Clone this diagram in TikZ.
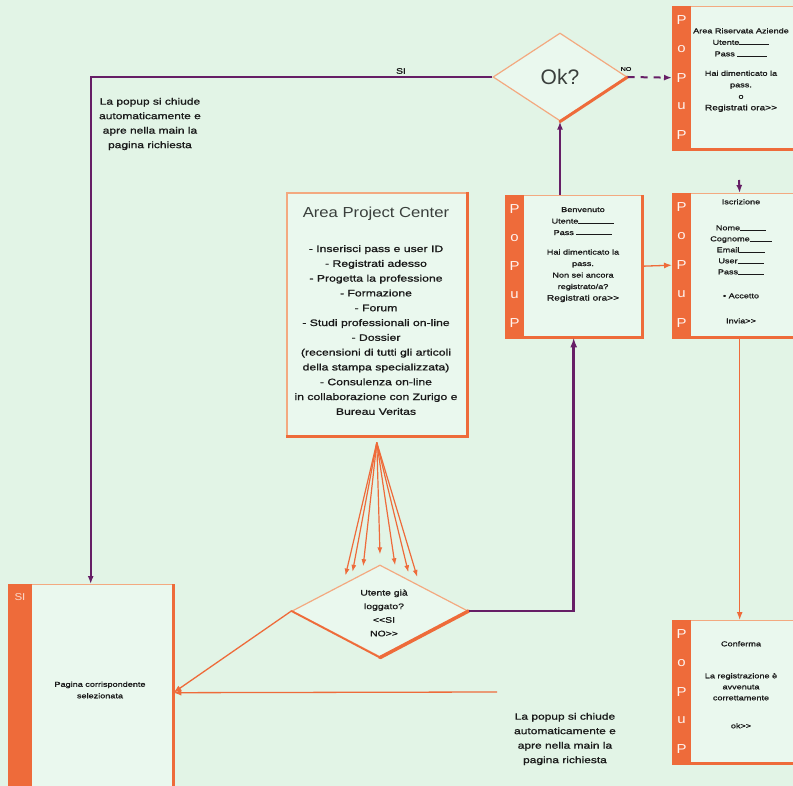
\documentclass[tikz,border=0pt]{standalone}
\usepackage{fontspec}
\setmainfont{Liberation Sans}
\newfontfamily\widesf{Liberation Sans}[FakeStretch=1.3, FakeBold=1.2]
\newfontfamily\titlesf{Liberation Sans}[FakeStretch=1.15]
\usetikzlibrary{shapes.geometric,arrows.meta,calc}

\definecolor{bg}{HTML}{E2F4E6}
\definecolor{boxbg}{HTML}{EAF8EE}
\definecolor{orng}{HTML}{EE6B3A}
\definecolor{orngL}{HTML}{F3A980}
\definecolor{purp}{HTML}{661E66}
\definecolor{ink}{HTML}{1A1A1A}
\definecolor{titlegray}{HTML}{3A3F3C}

\tikzset{
  popframe/.style={draw=orngL, line width=1.4pt, fill=boxbg, inner sep=0pt},
  sideletter/.style={text=white!92!orng, font=\titlesf\fontsize{13}{13}\selectfont, inner sep=0pt},
  poptext/.style={text=ink, align=center, inner sep=0pt, font=\widesf\fontsize{7}{11.5}\selectfont},
  note/.style={text=ink, align=center, inner sep=0pt, font=\widesf\fontsize{9.2}{14.5}\selectfont},
  decision/.style={diamond, draw=orngL, line width=1.2pt, fill=boxbg, inner sep=0pt},
  purpline/.style={draw=purp, line width=2pt},
  purparrow/.style={purpline, -{Latex[length=8pt,width=6pt]}},
  orngarrow/.style={draw=orng, line width=1.3pt, -{Latex[length=8pt,width=6pt]}},
  fanarrow/.style={draw=orng, line width=1.2pt, -{Latex[length=7pt,width=5pt]}},
  shadowedge/.style={draw=orng, line width=3.5pt},
}

% field line after a label
\newcommand\blank[1]{\rule{#1}{0.6pt}}

% popup window: name, left, top, right, bottom
\newcommand\popupbox[5]{%
  \node[popframe, anchor=north west, minimum width=#4-#2, minimum height=#5-#3] (#1) at (#2,#3) {};
  \fill[orng] (#1.north west) rectangle ([xshift=19pt]#1.south west);
  \draw[shadowedge] (#1.north east) -- (#1.south east) -- (#1.south west);
  \foreach \l [count=\i] in {P,o,P,u,P}
    \node[sideletter] (#1-l\i) at ($(#1.north west)!{(\i-0.5)/5}!(#1.south west)+(9.5pt,0)$) {\l};
}

\begin{document}
\begin{tikzpicture}[x=1pt,y=-1pt]
\useasboundingbox (0,0) rectangle (793,786);
\clip (0,0) rectangle (793,786);
\fill[bg] (0,0) rectangle (793,786);

% ---- popup windows ----
\popupbox{login}{672}{6}{806}{148}
\node[poptext, anchor=north] (login-t) at (741,28)
  {Area Riservata Aziende\\Utente\blank{30pt}\\Pass \blank{30pt}\\[8pt]Hai dimenticato la\\pass.\\o\\{\fontsize{7.8}{12}\selectfont Registrati ora>{}>}};

\popupbox{mid}{505}{195}{641}{336}
\node[poptext, anchor=north] (mid-t) at (583,207)
  {Benvenuto\\Utente\blank{36pt}\\Pass \blank{36pt}\\[8pt]Hai dimenticato la\\pass.\\Non sei ancora\\registrato/a?\\{\fontsize{7.8}{13}\selectfont Registrati ora>{}>}};

\popupbox{reg}{672}{193}{806}{336}
\node[poptext, anchor=north, font=\widesf\fontsize{7}{11}\selectfont] (reg-t) at (741,199)
  {Iscrizione\\[15pt]Nome\blank{26pt}\\Cognome\blank{22pt}\\Email\blank{26pt}\\User\blank{26pt}\\Pass\blank{26pt}\\[13pt]\textbullet{} Accetto\\[14pt]Invia>{}>};

\popupbox{conf}{672}{620}{806}{762}
\node[poptext, anchor=north, font=\widesf\fontsize{7}{11}\selectfont] (conf-t) at (741,641)
  {Conferma\\[21pt]La registrazione è\\avvenuta\\correttamente\\[17pt]ok>{}>};

% ---- selected page ----
\node[popframe, anchor=north west, minimum width=164, minimum height=216] (page) at (8,584) {};
\fill[orng] (page.north west) rectangle ([xshift=24pt]page.south west);
\draw[shadowedge] (page.north east) -- (page.south east);
\node[font=\titlesf\fontsize{10}{10}\selectfont, text=white!75!orng] (page-si) at (20,597) {SI};
\node[poptext] (page-t) at (100,690) {Pagina corrispondente\\selezionata};

% ---- project center panel ----
\node[draw=orngL, line width=1.6pt, fill=boxbg, anchor=north west, minimum width=180, minimum height=243] (apc) at (286,192) {};
\draw[shadowedge] (apc.north east) -- (apc.south east) -- (apc.south west);
\node[font=\titlesf\fontsize{14.5}{14.5}\selectfont, text=titlegray] (apc-title) at (376,214) {Area Project Center};
\node[anchor=north, align=center, inner sep=0pt, text=ink, font=\widesf\fontsize{9.4}{14.8}\selectfont] (apc-list) at (376,245)
  {- Inserisci pass e user ID\\- Registrati adesso\\- Progetta la professione\\- Formazione\\- Forum\\- Studi professionali on-line\\- Dossier\\(recensioni di tutti gli articoli\\della stampa specializzata)\\- Consulenza on-line\\in collaborazione con Zurigo e\\Bureau Veritas};

% ---- decisions ----
\node[decision, minimum width=134, minimum height=88] (ok) at (560,77) {};
\draw[orng, line width=3pt, line cap=round] (ok.east) -- (ok.south);
\node[font=\fontsize{21}{21}\selectfont, text=titlegray] (ok-t) at (560,77) {Ok?};

\node[decision, minimum width=176, minimum height=92] (util) at (380,611) {};
\draw[orng, line width=1.8pt, line cap=round] (util.west) -- (util.south);
\draw[orng, line width=3.5pt, line cap=round] (util.east) -- (util.south);
\node[poptext, font=\widesf\fontsize{8}{13.6}\selectfont] (util-t) at (384,613) {Utente già\\loggato?\\<{}<SI\\NO>{}>};

% ---- free texts ----
\node[note] (note-top) at (150,124) {La popup si chiude\\automaticamente e\\apre nella main la\\pagina richiesta};
\node[note] (note-bot) at (565,739) {La popup si chiude\\automaticamente e\\apre nella main la\\pagina richiesta};
\node[font=\widesf\fontsize{8}{8}\selectfont, text=ink] (si-lbl) at (401,71) {SI};
\node[font=\widesf\fontsize{5.5}{5.5}\selectfont, text=ink] (no-lbl) at (626,69) {NO};

% ---- connectors ----
\coordinate (fan) at ([yshift=-6pt]apc.south);
\foreach \t in {0.39,0.31,0.19}
  \draw[fanarrow] (fan) -- ($(util.north)!\t!(util.west)+(0,-7)$);
\draw[fanarrow] (fan) -- ($(util.north)+(0,-10)$);
\foreach \t in {0.17,0.32,0.42}
  \draw[fanarrow] (fan) -- ($(util.north)!\t!(util.east)+(0,-7)$);

\draw[purparrow] (ok.west) -| (page.north);
\draw[purparrow, dash pattern=on 7pt off 6pt] (ok.east) -- (login.west);
\draw[purparrow] (ok.south |- mid.north) -- (ok.south);
\coordinate (stub) at (739,180);
\draw[purparrow] (stub) -- (reg.north);
\draw[purpline, line width=2.6pt, -{Latex[length=10pt,width=7pt]}] (util.east) -| (mid.south);

\draw[orngarrow] (mid.east) -- (reg.west);
\draw[orngarrow] (reg.south) -- (conf.north);
\draw[orngarrow] (util.west) -- (page.east);
\coordinate (src) at (497,692);
\draw[orngarrow] (src) -- (page.east);
\end{tikzpicture}
\end{document}
